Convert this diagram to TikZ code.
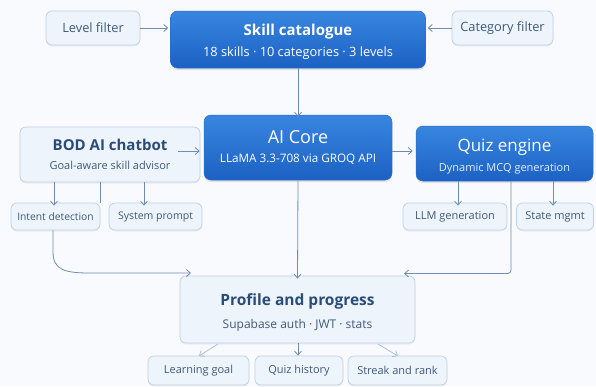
\documentclass[tikz,border=0pt]{standalone}
\usepackage{fontspec}
\setmainfont{Open Sans}
\usetikzlibrary{arrows.meta,shadows,positioning}
\definecolor{bgc}{HTML}{F8FAFD}
\definecolor{lightfill}{HTML}{EEF4FB}
\definecolor{lightborder}{HTML}{BCD0E6}
\definecolor{bluetop}{HTML}{3886E0}
\definecolor{bluebot}{HTML}{1C61C3}
\definecolor{bluedge}{HTML}{2A6FCE}
\definecolor{conn}{HTML}{6F8DB2}
\definecolor{darktxt}{HTML}{2A4C78}
\definecolor{smalltxt}{HTML}{3F5A7A}
\definecolor{subtxt}{HTML}{E3EEFB}
\tikzset{
  lightbox/.style={draw=lightborder, line width=0.7pt, fill=lightfill, rounded corners=6pt,
    inner sep=0pt, align=center, text=smalltxt,
    drop shadow={opacity=0.10, shadow xshift=0pt, shadow yshift=-1.5pt}},
  bluebox/.style={draw=bluedge, line width=0.5pt, top color=bluetop, bottom color=bluebot,
    rounded corners=7pt, inner sep=0pt, align=center, text=white,
    drop shadow={opacity=0.18, shadow xshift=0pt, shadow yshift=-2pt}},
  smallfont/.style={font=\fontsize{11}{13}\selectfont},
  filterfont/.style={font=\fontsize{12.8}{15}\selectfont},
  conarrow/.style={draw=conn, line width=0.8pt, -{Straight Barb[length=4pt,width=7pt]}},
  conline/.style={draw=conn, line width=0.8pt},
  faint/.style={draw=conn!55, line width=0.8pt, -{Straight Barb[length=4pt,width=7pt]}}
}
\begin{document}
\begin{tikzpicture}[x=1pt,y=-1pt]
\fill[bgc] (0,0) rectangle (596,386);
\useasboundingbox (0,0) rectangle (596,386);

% top row
\node[lightbox, filterfont, minimum width=94pt, minimum height=34pt] (lvl) at (93,28) {Level filter};
\node[bluebox, minimum width=255pt, minimum height=57pt] (cat) at (298,39.5)
  {{\fontsize{15}{17}\selectfont\bfseries\rule{0pt}{16pt}Skill catalogue}\\[6pt]{\fontsize{12.8}{14}\selectfont 18 skills · 10 categories · 3 levels}};
\node[lightbox, filterfont, minimum width=101pt, minimum height=34pt] (catf) at (502.5,28) {Category filter};

% middle row
\node[bluebox, minimum width=188pt, minimum height=65pt] (core) at (298,147.5)
  {{\fontsize{18}{20}\selectfont AI Core}\\[7pt]{\fontsize{11.7}{13}\selectfont LLaMA 3.3-708 via GROQ API}};
\node[lightbox, minimum width=180pt, minimum height=55pt] (bot) at (110,154.5)
  {{\fontsize{15}{17}\selectfont\bfseries\color{darktxt} BOD AI chatbot}\\[7pt]{\fontsize{11}{13}\selectfont Goal-aware skill advisor}};
\node[bluebox, minimum width=177pt, minimum height=55pt] (quiz) at (504.5,153.5)
  {{\fontsize{17}{19}\selectfont\rule{0pt}{19pt}Quiz engine}\\[7pt]{\fontsize{11}{13}\selectfont\color{subtxt} Dynamic MCQ generation}};

% sub boxes
\node[lightbox, font=\fontsize{10.3}{12}\selectfont, minimum width=89pt, minimum height=27pt] (intent) at (55.5,216.5) {Intent detection};
\node[lightbox, font=\fontsize{10.5}{12}\selectfont, minimum width=93pt, minimum height=27pt] (sysp) at (155.5,216.5) {System prompt};
\node[lightbox, smallfont, minimum width=104pt, minimum height=27pt] (llm) at (455,216.5) {LLM generation};
\node[lightbox, smallfont, minimum width=77pt, minimum height=27pt] (state) at (555,216.5) {State mgmt};

% profile
\node[lightbox, minimum width=235pt, minimum height=67pt] (prof) at (297.5,309.5)
  {{\fontsize{15.5}{17}\selectfont\bfseries\color{darktxt}\rule{0pt}{18pt}Profile and progress}\\[9pt]{\fontsize{12}{14}\selectfont Supabase auth · JWT · stats}};

\node[lightbox, smallfont, minimum width=101pt, minimum height=29pt] (goal) at (198.5,370.5) {Learning goal};
\node[lightbox, smallfont, minimum width=88pt, minimum height=29pt] (hist) at (299,370.5) {Quiz history};
\node[lightbox, smallfont, minimum width=99pt, minimum height=29pt] (streak) at (397.5,370.5) {Streak and rank};

% connectors
\draw[conarrow] (lvl.east) -- ([xshift=-2pt]cat.west |- lvl.east);
\draw[conarrow] (catf.west) -- ([xshift=2pt]cat.east |- catf.west);
\draw[conarrow] (cat.south) -- ([yshift=-2pt]core.north);
\draw[conarrow] ([xshift=-22pt]bot.east |- 0,151) -- ([xshift=-4pt]core.west |- 0,151);
\draw[conarrow] (core.east |- 0,151) -- ([xshift=-3pt]quiz.west |- 0,151);

\draw[conarrow] (bot.south -| 54,0) -- ([yshift=-3pt]intent.north -| 54,0);
\draw[conarrow] (bot.south -| 144,0) -- ([yshift=-3pt]sysp.north -| 144,0);
\draw[conline] (bot.south -| 100,0) -- (intent.north -| 100,0);

\draw[conarrow] (quiz.south -| 458,0) -- ([yshift=-3pt]llm.north -| 458,0);
\draw[conarrow] (quiz.south -| 553,0) -- ([yshift=-3pt]state.north -| 553,0);

\draw[conarrow] (intent.south -| 53,0) -- (53,252) .. controls (53,270) and (65,273) .. (90,273) -- (191,273);
\draw[conarrow] (quiz.south -| 511,0) -- (511,270) to[out=-90,in=0] (508,273.5) -- (404,273.5);
\draw[conarrow] (core.south) -- ([yshift=-3pt]prof.north);

\draw[faint] (218,344) -- (199,356);
\draw[conarrow] (prof.south -| 298,0) -- (hist.north -| 298,0);
\draw[faint] (378,344) -- (398,356);
\end{tikzpicture}
\end{document}
